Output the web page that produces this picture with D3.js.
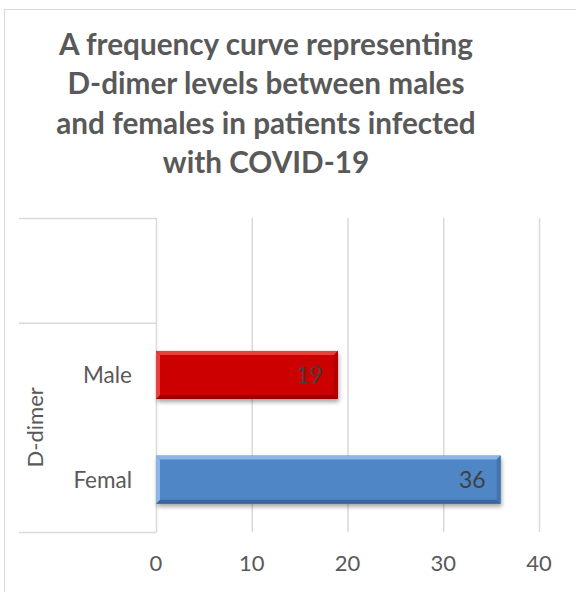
<!DOCTYPE html>
<html>
<head>
<meta charset="UTF-8" />
<script src="https://cdn.jsdelivr.net/npm/d3@7"></script>
<style>
  body { margin: 0; background: #fff; }
  text { font-family: Lato, "Open Sans", sans-serif; }
</style>
</head>
<body>
<script>
    // data
    let titleLines = ["A frequency curve representing", "D-dimer levels between males",
        "and females in patients infected", "with COVID-19"];
    let categories = ["", "Male", "Femal"];
    let values = [null, 19, 36];
    let groupLabels = ["", "D-dimer"];
    let groupSpans = [[0, 0], [1, 2]];
    let xTicks = [0, 10, 20, 30, 40];
    let barColors = [null, {main: "#cc0000", top: "#e8403a", bottom: "#990000", end: "#b30000"},
        {main: "#4f86c6", top: "#8cb6e8", bottom: "#3a659b", end: "#4473ad"}];

    let w = 576, h = 592;
    let svg = d3.select("body").append("svg").attr("width", w).attr("height", h);

    let defs = svg.append("defs");
    defs.append("filter").attr("id", "shadow")
        .attr("x", "-10%").attr("y", "-30%").attr("width", "130%").attr("height", "170%")
        .append("feDropShadow").attr("dx", 1).attr("dy", 3).attr("stdDeviation", 2)
        .attr("flood-color", "#000").attr("flood-opacity", 0.35);

    // chart frame
    svg.append("rect").attr("x", 4.5).attr("y", 9.5).attr("width", 620).attr("height", 620)
        .attr("fill", "none").attr("stroke", "#d9d9d9");

    // title, sized so the first line spans about as wide as the original
    let title = svg.append("g").selectAll("text").data(titleLines).enter().append("text")
        .attr("x", 266).attr("y", (d, i) => 55 + i * 39.3)
        .attr("text-anchor", "middle")
        .attr("font-size", 26).attr("font-weight", "bold").attr("fill", "#595959")
        .text(d => d);
    let len = title.node().getComputedTextLength();
    if (len > 0) title.attr("font-size", Math.min(30, 26 * 414 / len));

    let x = d3.scaleLinear().domain([0, 40]).range([156, 539]);
    let y = d3.scaleBand().domain(d3.range(categories.length)).range([218, 532]).padding(0);
    let barH = y.bandwidth() * 0.46;

    // vertical gridlines
    svg.append("g").selectAll("line").data(xTicks).enter().append("line")
        .attr("x1", d => x(d) + 0.5).attr("x2", d => x(d) + 0.5)
        .attr("y1", 218).attr("y2", 532)
        .attr("stroke", "#d9d9d9").attr("stroke-width", 1.5);

    // category axis group separators
    let sepY = [y(0)].concat(groupSpans.map(s => y(s[1]) + y.bandwidth()));
    svg.append("g").selectAll("line").data(sepY).enter().append("line")
        .attr("x1", 19).attr("x2", x(0) + 0.5)
        .attr("y1", d => d + 0.5).attr("y2", d => d + 0.5)
        .attr("stroke", "#d9d9d9").attr("stroke-width", 1.5);

    // x tick labels
    svg.append("g").selectAll("text").data(xTicks).enter().append("text")
        .attr("x", d => x(d)).attr("y", 571)
        .attr("text-anchor", "middle").attr("font-size", 22).attr("fill", "#595959")
        .text(d => d);

    // category labels
    svg.append("g").selectAll("text").data(categories).enter().append("text")
        .attr("x", 132).attr("y", (d, i) => y(i) + y.bandwidth() / 2 + 8)
        .attr("text-anchor", "end").attr("font-size", 22.5).attr("fill", "#595959")
        .text(d => d);

    // group labels (rotated)
    svg.append("g").selectAll("text").data(groupLabels).enter().append("text")
        .attr("transform", (d, i) => {
            let cy = (y(groupSpans[i][0]) + y(groupSpans[i][1]) + y.bandwidth()) / 2;
            return `translate(43,${cy}) rotate(-90)`;
        })
        .attr("text-anchor", "middle").attr("font-size", 22).attr("fill", "#595959")
        .text(d => d);

    // bars with bevel
    let bars = categories.map((c, i) => ({i: i, v: values[i]})).filter(d => d.v != null);
    let b = 4;
    let bg = svg.append("g").selectAll("g").data(bars).enter().append("g");
    bg.each(function (d) {
        let g = d3.select(this);
        let c = barColors[d.i];
        let x0 = x(0), x1 = x(d.v);
        let y0 = y(d.i) + (y.bandwidth() - barH) / 2, y1 = y0 + barH;
        g.append("rect").attr("x", x0).attr("y", y0).attr("width", x1 - x0).attr("height", barH)
            .attr("fill", c.main).attr("filter", "url(#shadow)");
        let poly = (pts, fill) => g.append("polygon")
            .attr("points", pts.map(p => p.join(",")).join(" ")).attr("fill", fill);
        poly([[x0, y0], [x1, y0], [x1 - b, y0 + b], [x0 + b, y0 + b]], c.top);
        poly([[x0, y1], [x1, y1], [x1 - b, y1 - b], [x0 + b, y1 - b]], c.bottom);
        poly([[x1, y0], [x1, y1], [x1 - b, y1 - b], [x1 - b, y0 + b]], c.end);
        poly([[x0, y0], [x0, y1], [x0 + b, y1 - b], [x0 + b, y0 + b]], c.top);
        g.append("text").attr("x", x1 - 15).attr("y", (y0 + y1) / 2 + 8)
            .attr("text-anchor", "end").attr("font-size", 23).attr("fill", "#404040")
            .text(d.v);
    });
</script>
</body>
</html>
